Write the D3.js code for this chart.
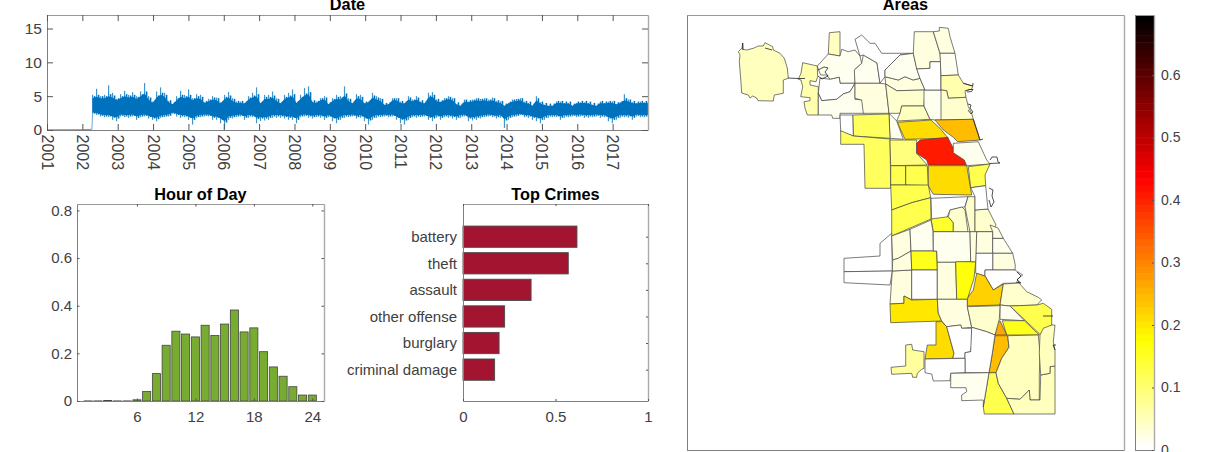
<!DOCTYPE html>
<html><head><meta charset="utf-8">
<script src="https://cdnjs.cloudflare.com/ajax/libs/d3/7.8.5/d3.min.js"></script>
<style>
html,body{margin:0;padding:0;background:#fff;overflow:hidden}
svg{display:block;font-family:"Liberation Sans",Arial,sans-serif}
.tick text{fill:#404040}
</style></head><body><svg id="c" width="1212" height="452"></svg>
<script>
const yearTicks=[2001,2002,2003,2004,2005,2006,2007,2008,2009,2010,2011,2012,2013,2014,2015,2016,2017];
const seriesStartYear=2002.29, seriesStepYears=0.1131;
const preYears=[2001,2002,2002.27];
const preValues=[0.03,0.05,0.1];
const seriesHigh=[5.2,6.1,5.0,5.2,6.6,5.5,4.6,5.3,5.8,5.2,5.6,5.0,5.7,6.95,5.0,4.2,5.7,6.3,5.5,4.3,3.8,5.0,5.8,5.2,6.0,4.7,5.3,5.2,4.1,4.6,5.0,4.8,4.1,5.2,5.6,4.7,4.2,4.2,4.0,5.0,5.5,6.3,4.0,5.2,5.2,5.7,4.7,
4.0,5.2,5.5,6.0,4.0,5.2,6.2,6.45,4.2,4.2,4.7,5.0,3.75,4.7,5.2,5.0,6.45,4.7,4.0,5.3,5.2,4.0,4.2,5.5,5.0,4.7,3.75,3.85,4.7,4.7,4.2,4.0,5.0,4.5,5.0,4.2,4.0,5.5,5.6,4.5,4.2,4.7,5.0,4.7,3.75,3.5,4.5,
4.2,4.5,4.7,4.6,4.7,4.5,4.8,4.3,4.2,3.5,4.0,4.5,4.6,4.7,4.2,4.0,3.5,5.0,4.1,3.75,3.5,3.5,4.2,4.2,4.0,4.0,3.5,4.0,4.1,4.1,4.0,3.75,3.5,4.2,4.0,4.2,4.2,3.75,4.1,5.3,4.5,4.1,4.0,4.2,4.1,4.2];
const seriesLow=[2.5,2.2,2.0,1.9,1.9,1.5,1.3,2.0,1.9,1.8,2.0,1.5,1.9,2.0,1.7,1.5,1.3,1.8,1.9,2.0,2.4,2.0,1.8,1.9,1.5,0.8,1.8,1.9,2.0,2.0,1.5,1.5,1.0,0.1,1.5,1.7,1.9,2.0,1.5,1.8,1.9,1.0,1.3,1.4,1.5,1.8,1.8,
1.8,1.7,1.5,1.5,1.0,1.9,2.0,1.8,1.7,1.9,1.8,1.5,1.9,1.3,1.0,1.5,1.8,1.9,2.0,1.7,1.8,1.3,0.8,1.5,1.8,1.9,2.0,1.9,2.0,1.5,1.0,0.8,1.5,1.9,1.8,1.9,2.0,1.5,1.3,1.8,1.5,1.9,1.8,1.7,1.5,1.8,2.0,
1.3,1.4,1.5,1.7,1.9,2.0,1.9,1.7,1.8,0.3,1.5,1.9,2.0,2.2,1.9,1.8,1.5,1.3,1.0,1.5,1.8,1.9,1.9,1.5,1.8,1.9,2.0,1.9,2.0,1.8,1.8,1.9,2.0,1.8,1.9,1.3,1.0,1.5,1.8,1.9,1.8,1.5,2.0,1.9,1.9,1.9];
const seriesMidHigh=[4.7,4.9,4.7,4.7,5.0,4.8,4.4,4.7,5.0,4.8,4.9,4.6,5.0,5.4,4.5,4.0,4.8,5.2,4.9,4.1,3.8,4.4,4.9,4.7,4.9,4.4,4.7,4.6,4.0,4.2,4.5,4.4,3.9,4.6,4.8,4.3,4.0,4.0,3.9,4.5,4.8,5.0,3.9,4.6,4.6,4.8,4.3,
3.9,4.6,4.8,5.0,4.0,4.6,5.1,5.3,4.1,4.0,4.4,4.5,3.8,4.3,4.6,4.5,5.1,4.3,3.9,4.7,4.6,3.9,4.1,4.8,4.5,4.3,3.7,3.8,4.4,4.4,4.0,3.9,4.5,4.2,4.5,4.1,3.9,4.8,4.9,4.3,4.1,4.4,4.6,4.4,3.8,3.6,4.2,
4.1,4.2,4.4,4.3,4.4,4.2,4.4,4.1,4.0,3.6,3.9,4.2,4.3,4.4,4.0,3.9,3.6,4.4,3.9,3.7,3.6,3.6,4.0,4.0,3.9,3.9,3.6,3.9,4.0,4.0,3.9,3.7,3.6,4.0,3.9,4.0,4.0,3.8,4.0,4.4,4.2,4.0,3.9,4.0,4.0,4.0];
const seriesMidLow=[2.6,2.5,2.3,2.2,2.2,2.0,1.9,2.3,2.2,2.2,2.3,2.0,2.2,2.3,2.1,1.9,1.8,2.1,2.2,2.3,2.6,2.4,2.2,2.2,2.0,1.7,2.1,2.2,2.3,2.3,2.0,2.0,1.7,1.3,2.0,2.1,2.2,2.3,2.0,2.2,2.2,1.8,1.9,1.9,2.0,2.2,2.2,
2.2,2.1,2.0,2.0,1.7,2.2,2.3,2.2,2.1,2.2,2.2,2.0,2.2,1.9,1.7,2.0,2.2,2.2,2.3,2.1,2.2,1.9,1.6,2.0,2.2,2.2,2.3,2.2,2.3,2.0,1.7,1.6,2.0,2.2,2.2,2.2,2.3,2.0,1.9,2.2,2.0,2.2,2.2,2.1,2.0,2.2,2.3,
1.9,1.9,2.0,2.1,2.2,2.3,2.2,2.1,2.2,1.6,2.0,2.2,2.3,2.4,2.2,2.2,2.0,1.9,1.7,2.0,2.2,2.2,2.2,2.0,2.2,2.2,2.3,2.2,2.3,2.2,2.2,2.2,2.3,2.2,2.2,1.9,1.7,2.0,2.2,2.2,2.2,2.0,2.3,2.2,2.2,2.2];
const hours=[1,2,3,4,5,6,7,8,9,10,11,12,13,14,15,16,17,18,19,20,21,22,23,24];
const hourValues=[0.0005,0.0005,0.002,0.0005,0.0005,0.005,0.04,0.115,0.234,0.293,0.281,0.269,0.318,0.275,0.323,0.382,0.29,0.307,0.207,0.143,0.104,0.06,0.025,0.025];
const crimeNames=["battery","theft","assault","other offense","burglary","criminal damage"];
const crimeValues=[0.616,0.569,0.368,0.225,0.195,0.171];
const colorTicks=[0,0.1,0.2,0.3,0.4,0.5,0.6];
const colorMax=0.696;
// Community-area outlines in map units, with one fill value for each
const areaValues=[0.05,0.055,0.05,0.012,0,0.012,0.012,0.008,0.03,0.03,0.015,0.035,0.05,0.015,0.03,0.03,0,0.012,0.06,0.035,0.244,0.209,0.012,0.11,0,0.11,0.09,0.41,0.012,0.13,0.12,0.209,0.12,0.12,0.12,0,0.15,0.035,0.035,0.04,0.03,0.012,0.03,0.03,0,0,0.226,0.04,0.12,0.02,0.163,0.271,0.244,0.12,0.045,0.045,0.045,0.008,0.008,0.03,0.03,0.03,0.012,0.16,0,0.012,0.03,0.165,0.03,0.2,0.03,0.04,0.214,0.008,0,0,0.012,0.07,0];
const areaOutlines=[
[[742.7,43],[742,48],[738.3,51.7],[740,55],[739.3,61.7],[740,70],[741,83],[741.7,93],[748.3,95],[750,98],[752.7,96],[756.7,98],[758,100.7],[773.3,101],[774.3,95],[783.3,93.3],[783.3,80],[788.3,78.3],[787.3,68],[784.3,58.3],[780,53.3],[773.3,50],[772.7,46.7],[765,42.7],[763.3,46],[758.3,46],[753.3,48.3],[746.7,50],[742.7,49.3]],
[[798.3,79.3],[801,73.3],[802.7,62.7],[817.3,66],[817.7,76.7],[816,81.7],[810,80.7],[810,85],[818.3,86.7],[818.3,115],[807.3,115],[805,108.3],[804,101.7],[810,100.7],[810,97.7],[800.7,96.7],[802.7,86.7],[801,80]],
[[829.3,32.7],[840,31.7],[840,56],[828.3,54]],
[[828.3,54],[840,56],[841.7,49.3],[848.3,51.7],[855,50],[860,56],[861.7,63.3],[855,69.3],[855,83.3],[840,83.3],[839.3,77.3],[830,79.3],[826.7,75],[820.7,75],[818.3,69.3],[817.3,66]],
[[820,78],[830,79.3],[839.3,77.3],[840,83.3],[855,83.3],[850,91.7],[843.3,94],[836.7,99.3],[821.7,100.7],[818.3,93.3]],
[[818.3,93.3],[821.7,100.7],[836.7,99.3],[843.3,94],[850,91.7],[855,83.3],[855,99.3],[862.7,100],[864.3,113.3],[840,113.3],[840,118.3],[832.7,118.3],[831.7,115],[818.3,115]],
[[854.3,70],[861.7,63.3],[863.3,55],[877,63],[880,83.3],[855,83.3]],
[[855,39.3],[861.7,35],[870,43.3],[875,43.3],[881.7,53.3],[913,53.3],[900,55],[885,70],[885,76.7],[880,83.3],[877,63],[863.3,55],[860,56]],
[[855,83.3],[880,83.3],[885.7,84],[889,113.3],[863.3,113.3],[861.7,100],[855,98.3]],
[[885,76.7],[898.3,80],[905,76.7],[913.3,80],[920,78.3],[925,90],[896.7,90.7],[885.7,84]],
[[885,70],[900,55],[913.3,53.3],[916.7,68.3],[920,78.3],[913,80],[905,76.7],[898.3,80],[885,76.7]],
[[896.7,90.7],[925,90],[924,106],[901.7,106],[900,113.3],[889,113.3],[885.7,84]],
[[901.7,106],[924,106],[930,119.3],[896.7,121],[900,113.3]],
[[924,90],[941.7,90],[942.7,120],[935,120],[930,119.3],[924,106]],
[[914.3,31.7],[933.3,31.7],[940,53.3],[940.7,61.7],[930,61.7],[930,68.3],[916.7,69],[913.3,53.3]],
[[933.3,31.7],[939.3,31],[939.3,27.3],[948.3,28.3],[950,36.7],[955,53.3],[940,53.3]],
[[916.7,69],[930,68.3],[930,61.7],[940.7,61.7],[941,90],[925,90],[920,78.3]],
[[940,53.3],[955,53.3],[958.3,75],[941,75.7]],
[[941,75.7],[958.3,75],[963.3,83.3],[972.7,86],[971.7,89.3],[965,90.7],[966,97.3],[948.3,98.3],[946.7,90.7],[941,90]],
[[946.7,90.7],[948.3,98.3],[966,97.3],[968.3,106.7],[971.7,113.3],[973.3,119.3],[941,120],[941,90]],
[[935,120],[973.3,119.3],[980,140],[957.7,141.7],[953.3,137.3],[943.3,130]],
[[897.3,122.3],[931,120],[940,128.3],[948.3,138.3],[905,139.3]],
[[889,113.3],[896.7,121],[903.3,139.3],[890,138.3]],
[[852.7,115],[889,114],[890,138.3],[853.3,136]],
[[840,115],[852.7,115],[853.3,136],[840.7,131.7]],
[[840.7,130.7],[853.3,136],[890,139],[890.7,188.3],[865,188.3],[864,144.3],[840.7,144.3]],
[[890,140],[916.7,140],[916.7,153.3],[927.3,165],[890.7,165.7]],
[[920,140],[947.7,137.3],[953.3,148.3],[953.3,152.7],[964.3,160],[966.7,165],[928.3,165],[926.7,160],[916.7,153.3],[916.7,143.3]],
[[953.3,143.3],[978.3,141.7],[986.7,160],[990,164],[966.7,165.7],[964.3,160],[953.3,152.7]],
[[890.7,165.7],[905.5,165.7],[905.7,185],[890.7,185]],
[[905.7,165.7],[927.3,165.7],[928.3,185.7],[905.7,185]],
[[928.3,165.7],[966.7,165.7],[971.7,195],[933.3,194.3],[928.3,185.7]],
[[968.3,166.7],[990,164],[985,175],[985.7,185.7],[970.7,187.7]],
[[890.7,185],[928.3,185],[930.7,197.7],[911.7,202.7],[891.7,210]],
[[891.7,210],[911.7,202.7],[930.7,197.7],[931,219],[891.7,236]],
[[931,198.3],[968,196.7],[965,206.7],[950,210],[946.7,218.3],[931.7,220]],
[[931,219],[948.3,216.7],[953.3,222.7],[953.3,231.7],[933.3,231.7]],
[[950,210],[962,207],[965,210],[968,232],[953.3,232],[953.3,222.7],[948.3,216.7]],
[[968,196.7],[975,196.7],[975,232],[970,232],[965,207]],
[[975,210],[988,209],[996,225],[992.7,231.7],[975,231.7]],
[[976.7,231.7],[992.7,231.7],[992.7,253.3],[975.7,253.3]],
[[992.7,238.3],[1003.3,238.3],[1012.7,253.3],[992.7,253.3]],
[[992.7,231.7],[992.7,238.3],[1003.3,238.3],[998,228],[990,225]],
[[992.7,253.3],[1012.7,253.3],[1015.3,265],[1015,270],[992.7,270]],
[[975.7,253.3],[992.7,253.3],[992.7,270],[985,270],[985,276],[975.7,273.3]],
[[985,270],[1015,270],[1022.7,275],[1017.3,279.3],[1019,283],[1003.3,283.3],[993.3,290],[985,276]],
[[976.7,273.3],[985,276],[993.3,290],[1003.3,284],[1000,305],[967.3,306],[967.3,298.3],[973.3,290]],
[[1003.3,284],[1019,283],[1026.7,291.7],[1038.3,297.3],[1041.7,300],[1036.7,305],[1010,306],[1000,305]],
[[1010,306],[1036.7,305],[1043.3,303.3],[1051.7,309.3],[1051.7,325],[1040,334.3]],
[[1000,305],[1010,306],[1024.3,320.7],[1000,319.3]],
[[1002.3,320.7],[1024.3,320.7],[1039.3,335],[1006.7,335]],
[[1000,320.7],[1006.7,335],[995,335],[996.7,323.3]],
[[995,335.7],[1007.7,335.7],[1009,347.3],[1001.7,358.3],[996,372.7],[989,372.7],[992.3,353.3]],
[[989,372.7],[996,372.7],[998.3,383.3],[1006.7,398.3],[1014,414],[984.3,414],[983.3,406.7]],
[[996,372.7],[1001.7,358.3],[1009,347.3],[1007.7,335.7],[1038.3,335],[1040,353.3],[1039.3,375],[1039.3,400],[1030,400],[1029.3,390],[1020,399.3],[1006.7,398.3],[998.3,383.3]],
[[1006.7,398.3],[1020,399.3],[1029.3,390],[1030,400],[1040,400],[1040.7,375],[1050,373.3],[1050,366.7],[1055,366],[1055,414],[1014,414]],
[[1040,335],[1043.3,328.3],[1051.7,325],[1055,325],[1053.3,341.7],[1055,350],[1055,366],[1050,366.7],[1050,373.3],[1040.7,375],[1039.3,353.3]],
[[844,258.3],[880,256],[880,243.3],[891.7,233.3],[892.3,271],[844,271.7]],
[[844,271.7],[892.3,271],[890,285],[844,282.7]],
[[892.3,271],[911.7,270],[911.7,300],[904,296],[904,303.3],[890,304]],
[[891.7,236],[910,229.3],[911,251],[898.3,258.3],[892.7,260]],
[[892.7,260],[898.3,258.3],[911,251],[911.7,270],[892.3,271]],
[[910,229.3],[931,220],[933,231.7],[933.3,251],[911,251]],
[[911,251],[936.7,251],[937.3,270],[911.7,270]],
[[911.7,270],[937.3,270],[937.3,299.3],[911.7,299.3]],
[[933.3,231.7],[970,231.7],[970.7,261.7],[955.7,262.3],[937.3,262.3],[936.7,251],[933.3,251]],
[[937.3,262.3],[955.7,262.3],[956.7,299.3],[937.3,299.3]],
[[955.7,261.7],[975.7,261.7],[974,278.3],[967.3,299.3],[956.7,299.3]],
[[970,231.7],[976.7,231.7],[975.7,261.7],[970.7,261.7]],
[[904,296],[911.7,300],[937.3,299.3],[938.3,313.3],[941.7,321],[890.7,322.7],[890,304],[904,303.3]],
[[937.3,299.3],[956.7,299.3],[967.3,299.3],[967.3,306.7],[971.7,327.3],[961.7,328.3],[960.7,325],[946.7,326.7],[941.7,321],[938.3,313.3]],
[[967.3,306.7],[1000,305.7],[999.3,319.3],[995,335],[986.7,331.7],[971.7,327.3]],
[[936,321.7],[941.7,321.7],[946.7,326.7],[954,353.3],[952.7,358.3],[925,359],[927.3,345],[936,345]],
[[946.7,326.7],[960.7,325],[961.7,328.3],[971.7,328.3],[971.7,343.3],[970.7,351.7],[965,352.7],[965,358.3],[952.7,358.3],[954,353.3]],
[[971.7,327.3],[986.7,331.7],[995,335],[992.3,353.3],[989,372.7],[965,372.7],[965,352.7],[970.7,351.7]],
[[925,359],[965,358.3],[965,372.7],[950.7,373.3],[950,380.7],[933.3,381],[931.7,374],[925,372.7]],
[[950.7,373.3],[989,372.7],[983.3,406.7],[983.3,400],[961.7,400.7],[961.7,395],[966.7,391.7],[966,387.7],[950.7,387.7]],
[[905.7,345],[911.7,344.3],[912.7,350],[924,351.7],[924,368.3],[921.7,369.3],[917.3,373.3],[916.7,377.3],[912.7,377.3],[911.7,373.3],[891.7,374.3],[891,367.3],[905.7,366]],
[[970.7,187.7],[985.7,185.7],[986.7,196.7],[988,209],[975,210],[975,196.7]]
];
// Short open coast and boundary details of the map
const mapDetails=[
[[788,78],[798,78.5],[805,78.5]],
[[818,70],[824,67],[828,68],[825,72],[828,76],[822,79],[818,76]],
[[966,91],[969,89.5],[973,89.5],[971.5,91.5],[967,92]],
[[968,104],[971,105],[970,108],[973,112],[971,114],[968,110]],
[[963.3,83.3],[972.7,86],[973,83]],
[[990,160],[992,157],[997,157],[998,162],[1000,163],[990,163.5]],
[[989,188],[993,190],[992,196],[994,202],[991,207],[989,200]],
[[1017,272],[1021,276],[1017,280],[1021,283],[1016,282]],
[[1043,316],[1053,316]],
[[973.3,119.3],[980,140],[983,139]],
[[742.7,43],[743,50]],
[[765,48],[772,50]],
[[1055,350],[1053,345],[1056,345]]
];
const svg=d3.select("#c");
const AX="#7f7f7f",TXT="#404040";
function box(l,t,r,b){
  svg.append("rect").attr("x",l).attr("y",t).attr("width",r-l).attr("height",b-t).attr("fill","#fff").attr("stroke","none");
}
function frame(l,t,r,b){
  svg.append("path").attr("d",`M${l+.5},${b+.5}V${t+.5}H${r+.5}`).attr("fill","none").attr("stroke","#999");
  svg.append("path").attr("d",`M${l+.5},${t+.5}V${b+.5}H${r+.5}`).attr("fill","none").attr("stroke",AX);
  svg.append("path").attr("d",`M${r+.5},${t+.5}V${b+.5}`).attr("fill","none").attr("stroke","#aaa").attr("stroke-width",1.4);
}
function title(x,y,s){svg.append("text").attr("x",x).attr("y",y).attr("text-anchor","middle").attr("font-size",16.3).attr("font-weight","bold").attr("fill","#000").text(s);}
function axisG(g,size){g.select(".domain").remove();g.selectAll(".tick line").attr("stroke","#555");g.selectAll(".tick text").attr("font-size",size).attr("fill",TXT);g.attr("font-family",null);}

// Date
{const l=47,r=648,t=15,b=130;
 const x=d3.scaleLinear().domain([2001,2018]).range([l,r]);
 const y=d3.scaleLinear().domain([0,17]).range([b,t]);
 box(l,t,r,b);
 svg.append("clipPath").attr("id","cd").append("rect").attr("x",l).attr("y",t).attr("width",r-l).attr("height",b-t);
 const yearOf=i=>seriesStartYear+i*seriesStepYears;
 const half=seriesStepYears/2;
 const line=d3.line().x(d=>x(d[0])).y(d=>y(d[1]));
 const g=svg.append("g").attr("clip-path","url(#cd)");
 g.append("path").attr("d",line(preYears.map((yr,i)=>[yr,preValues[i]]))).attr("fill","none").attr("stroke","#0072bd").attr("stroke-width",0.9).attr("stroke-opacity",0.75);
 // the rise where the records begin
 g.append("path").attr("d",line([[preYears[2],preValues[2]],[seriesStartYear,seriesLow[0]]])).attr("fill","none").attr("stroke","#0072bd").attr("stroke-width",1).attr("stroke-opacity",0.6);
 const mid=seriesMidHigh.map((h,i)=>[yearOf(i),h]).concat(seriesMidLow.map((v,i)=>[yearOf(i),v]).reverse());
 g.append("path").attr("d",line(mid)+"Z").attr("fill","#0072bd");
 // thin spikes: the fullest swings and, between them, the ordinary ones
 g.selectAll("path.spike").data(seriesHigh).join("path").attr("class","spike")
  .attr("d",(h,i)=>`M${x(yearOf(i))},${y(seriesLow[i])}V${y(h)}`)
  .attr("stroke","#0072bd").attr("stroke-width",1.2).attr("stroke-opacity",0.75);
 g.selectAll("path.spike2").data(seriesMidHigh).join("path").attr("class","spike2")
  .attr("d",(h,i)=>`M${x(yearOf(i)+half)},${y(seriesMidLow[i]-0.2)}V${y(h+0.3)}`)
  .attr("stroke","#0072bd").attr("stroke-width",1.6);
 frame(l,t,r,b);
 const gb=svg.append("g").attr("transform",`translate(0,${b})`).call(d3.axisBottom(x).tickValues(yearTicks).tickFormat(d3.format("d")).tickSizeInner(-6).tickSizeOuter(0));
 axisG(gb,16);
 gb.selectAll(".tick text").attr("text-anchor","start").attr("dx",0).attr("dy",0).attr("transform","translate(-6,4.5) rotate(90)").attr("y",0).attr("x",0);
 const gt=svg.append("g").attr("transform",`translate(0,${t})`).call(d3.axisTop(x).tickValues(yearTicks).tickFormat("").tickSizeInner(-6).tickSizeOuter(0));axisG(gt,1);
 const gl=svg.append("g").attr("transform",`translate(${l},0)`).call(d3.axisLeft(y).tickValues([0,5,10,15]).tickSizeInner(-6).tickSizeOuter(0).tickPadding(5));axisG(gl,15.5);
 const gr=svg.append("g").attr("transform",`translate(${r},0)`).call(d3.axisRight(y).tickValues([0,5,10,15]).tickFormat("").tickSizeInner(-6).tickSizeOuter(0));axisG(gr,1);
 title(347.5,10,"Date");
}
// Hour
{const l=77,r=324,t=204,b=401;
 const x=d3.scaleLinear().domain([-0.15,25.2]).range([l,r]);
 const y=d3.scaleLinear().domain([0,0.827]).range([b,t]);
 box(l,t,r,b);
 const w=x(0.83)-x(0);
 svg.append("g").selectAll("rect").data(hours).join("rect")
  .attr("x",d=>x(d)-w/2).attr("width",w)
  .attr("y",(d,i)=>y(hourValues[i])).attr("height",(d,i)=>y(0)-y(hourValues[i]))
  .attr("fill","#77ac30").attr("stroke","#444").attr("stroke-width",0.8);
 frame(l,t,r,b);
 const tv=[6,12,18,24],yv=[0,0.2,0.4,0.6,0.8];
 const gb=svg.append("g").attr("transform",`translate(0,${b})`).call(d3.axisBottom(x).tickValues(tv).tickSizeInner(-2.5).tickSizeOuter(0).tickPadding(10));axisG(gb,15);
 const gt=svg.append("g").attr("transform",`translate(0,${t})`).call(d3.axisTop(x).tickValues(tv).tickFormat("").tickSizeInner(-2.5).tickSizeOuter(0));axisG(gt,1);
 const gl=svg.append("g").attr("transform",`translate(${l},0)`).call(d3.axisLeft(y).tickValues(yv).tickFormat(d=>d===0?"0":d3.format(".1f")(d)).tickSizeInner(-2.5).tickSizeOuter(0).tickPadding(5));axisG(gl,15);
 const gr=svg.append("g").attr("transform",`translate(${r},0)`).call(d3.axisRight(y).tickValues(yv).tickFormat("").tickSizeInner(-2.5).tickSizeOuter(0));axisG(gr,1);
 title(200.5,200,"Hour of Day");
}
// Crimes
{const l=463,r=648,t=204,b=401;
 const x=d3.scaleLinear().domain([0,1]).range([l,r]);
 const y=d3.scaleLinear().domain([-0.23,7.18]).range([t,b]);
 box(l,t,r,b);
 const h=y(0.8)-y(0);
 svg.append("g").selectAll("rect").data(crimeNames).join("rect")
  .attr("x",x(0)).attr("y",(d,i)=>y(i+1)-h/2).attr("height",h)
  .attr("width",(d,i)=>x(crimeValues[i])-x(0))
  .attr("fill","#a2142f").attr("stroke","#4a4a4a").attr("stroke-width",0.9);
 frame(l,t,r,b);
 const pos=crimeNames.map((d,i)=>i+1);
 const gl=svg.append("g").attr("transform",`translate(${l},0)`).call(d3.axisLeft(y).tickValues(pos).tickFormat((d,i)=>crimeNames[i]).tickSizeInner(0).tickSizeOuter(0).tickPadding(6));axisG(gl,15);
 const gr=svg.append("g").attr("transform",`translate(${r},0)`).call(d3.axisRight(y).tickValues(pos).tickFormat("").tickSizeInner(-2).tickSizeOuter(0));axisG(gr,1);
 const gb=svg.append("g").attr("transform",`translate(0,${b})`).call(d3.axisBottom(x).tickValues([0,0.5,1]).tickFormat(d3.format("")).tickSizeInner(-2).tickSizeOuter(0).tickPadding(10));axisG(gb,15);
 const gt=svg.append("g").attr("transform",`translate(0,${t})`).call(d3.axisTop(x).tickValues([0,0.5,1]).tickFormat("").tickSizeInner(-2).tickSizeOuter(0));axisG(gt,1);
 title(555.5,200,"Top Crimes");
}
// Hot colormap: 64 levels from white through yellow and red to black
const hotLevels=d3.range(64).map(i=>{const f=i/63;
  const b=1-Math.min(1,f/0.25),g=1-Math.max(0,Math.min(1,(f-0.25)/0.375)),r=1-Math.max(0,Math.min(1,(f-0.625)/0.375));
  return d3.rgb(r*255,g*255,b*255).formatHex();});
const color=d3.scaleQuantize().domain([0,colorMax]).range(hotLevels);
// Areas
{const l=687,r=1124,t=15,b=450;
 const x=d3.scaleLinear().domain([l,r]).range([l,r]);
 const y=d3.scaleLinear().domain([t,b]).range([t,b]);
 const line=d3.line().x(d=>x(d[0])).y(d=>y(d[1]));
 svg.append("g").selectAll("path").data(areaOutlines).join("path")
  .attr("d",d=>line(d)+"Z")
  .attr("fill",(d,i)=>areaValues[i]===0?"#fff":color(areaValues[i]))
  .attr("stroke","#444").attr("stroke-width",0.7).attr("stroke-linejoin","round");
 svg.append("g").selectAll("path").data(mapDetails).join("path")
  .attr("d",d=>line(d)).attr("fill","none").attr("stroke","#222").attr("stroke-width",0.8);
 frame(l,t,r,b);
 title(905.5,10,"Areas");
}
// Colour bar
{const l=1135,r=1154,t=15,b=450;
 const y=d3.scaleLinear().domain([0,colorMax]).range([b,t]);
 const stepv=colorMax/64;
 svg.append("g").selectAll("rect").data(hotLevels).join("rect")
  .attr("x",l).attr("width",r-l)
  .attr("y",(d,i)=>y((i+1)*stepv)).attr("height",(d,i)=>y(i*stepv)-y((i+1)*stepv)+0.5)
  .attr("fill",d=>d);
 frame(l,t,r,b);
 const gr=svg.append("g").attr("transform",`translate(${r},0)`).call(d3.axisRight(y).tickValues(colorTicks).tickFormat(d=>d===0?"0":d3.format(".1f")(d)).tickSizeInner(-2).tickSizeOuter(0).tickPadding(7));axisG(gr,14);
}
</script></body></html>
